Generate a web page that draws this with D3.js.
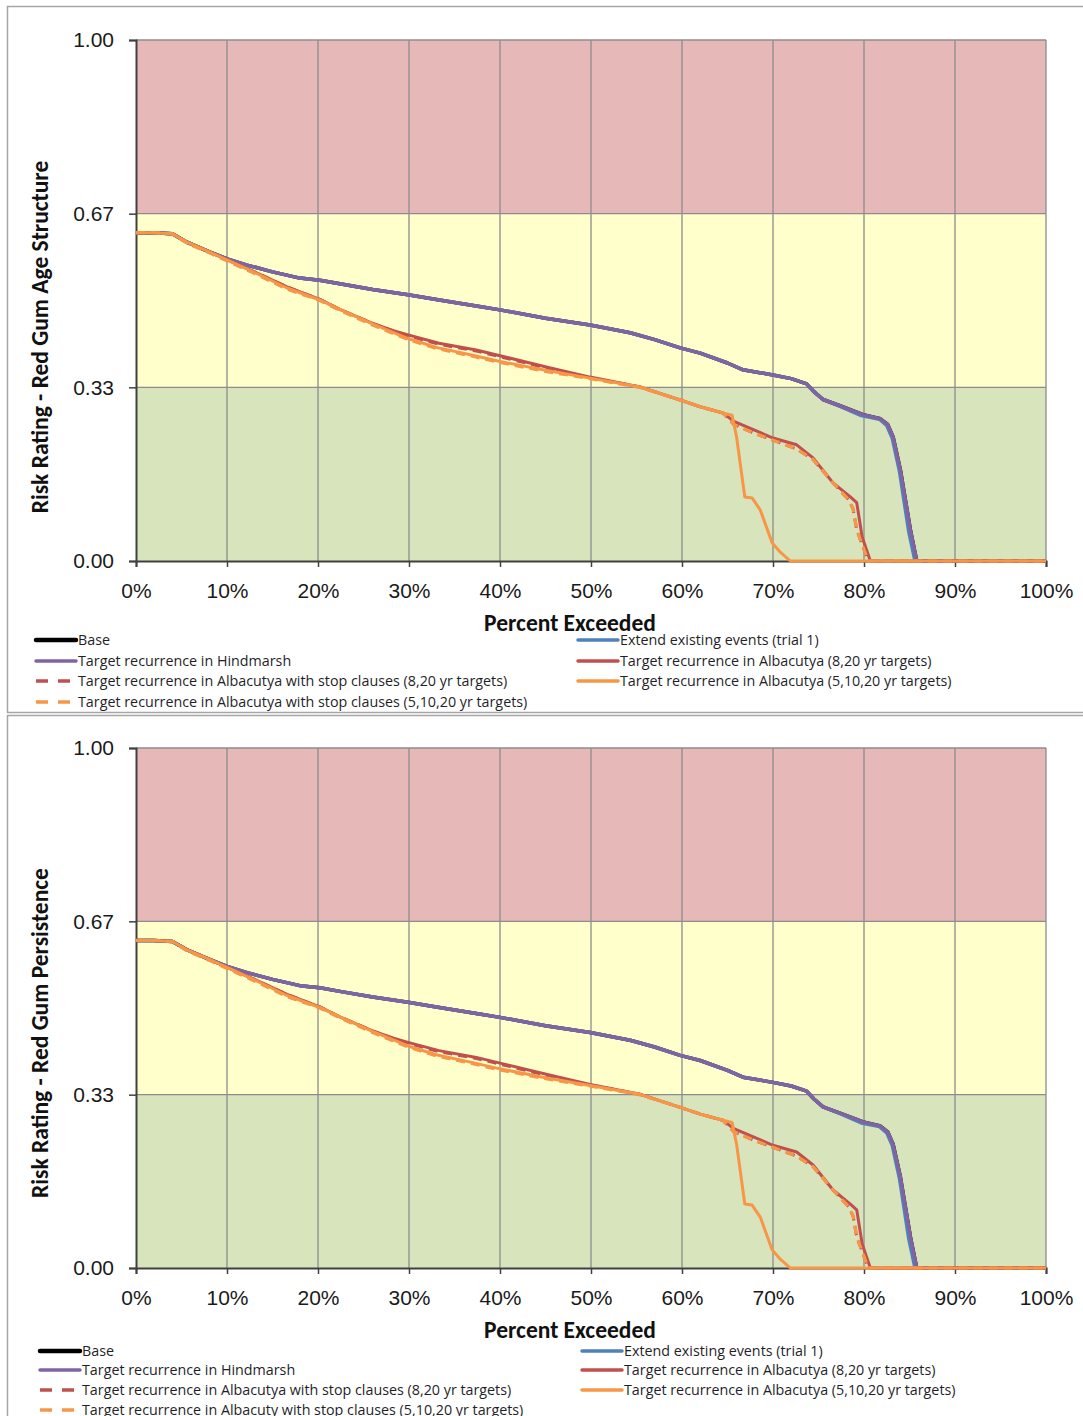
<!DOCTYPE html>
<html>
<head>
<meta charset="utf-8">
<script src="https://cdn.jsdelivr.net/npm/d3@7"></script>
<style>
  body { margin: 0; background: #fff; }
  svg { display: block; font-family: Carlito, Calibri, Lato, sans-serif; }
</style>
</head>
<body>
<svg id="chart" width="1083" height="1416"></svg>
<script>

/*
*       Data (x = percent exceeded, y = risk rating)
*/

// Tick values for both axes
var xTicks = [0, 10, 20, 30, 40, 50, 60, 70, 80, 90, 100];
var yTicks = [0, 1 / 3, 2 / 3, 1];

// Risk bands, low to high
var bandEdges = [0, 1 / 3, 2 / 3, 1];
var bandColors = ['#d8e4bc', '#ffffcc', '#e6b8b7'];

// Base and extend existing events sit right under the Hindmarsh line
var base = [[0,0.630],[2,0.630],[4,0.628],[5.6,0.612],[8,0.594],[10,0.580],[12.2,0.568],[15,0.555],[18,0.543],[20.2,0.539],[22.4,0.532],[26,0.521],[29.9,0.511],[33,0.502],[37.9,0.488],[40,0.482],[45,0.466],[49.9,0.453],[54.3,0.438],[57,0.425],[59.8,0.409],[62,0.399],[65,0.380],[66.7,0.367],[70,0.357],[72,0.350],[73.7,0.340],[74.5,0.325],[75.5,0.310],[77.5,0.297],[79.9,0.281],[81.8,0.273],[82.6,0.262],[83.2,0.238],[84,0.175],[85.1,0.060],[85.8,0],[100,0]];
var extendEvents = [[0,0.630],[2,0.630],[4,0.628],[5.6,0.612],[8,0.594],[10,0.580],[12.2,0.568],[15,0.555],[18,0.543],[20.2,0.539],[22.4,0.532],[26,0.521],[29.9,0.511],[33,0.502],[37.9,0.488],[40,0.482],[45,0.466],[49.9,0.453],[54.3,0.438],[57,0.425],[59.8,0.409],[62,0.399],[65,0.380],[66.7,0.367],[70,0.357],[72,0.350],[73.7,0.340],[74.5,0.325],[75.5,0.310],[77.5,0.296],[79.7,0.279],[81.7,0.272],[82.5,0.260],[83.1,0.236],[83.9,0.172],[84.9,0.058],[85.6,0],[100,0]];
var hindmarsh = [[0,0.630],[2,0.630],[4,0.628],[5.6,0.612],[8,0.594],[10,0.580],[12.2,0.568],[15,0.555],[18,0.543],[20.2,0.539],[22.4,0.532],[26,0.521],[29.9,0.511],[33,0.502],[37.9,0.488],[40,0.482],[45,0.466],[49.9,0.453],[54.3,0.438],[57,0.425],[59.8,0.409],[62,0.399],[65,0.380],[66.7,0.367],[70,0.357],[72,0.350],[73.7,0.340],[74.5,0.325],[75.5,0.310],[77.5,0.297],[79.9,0.281],[81.8,0.273],[82.6,0.262],[83.2,0.238],[84,0.175],[85.1,0.060],[85.8,0],[100,0]];

// Albacutya, 8,20 yr targets
var albacutya820 = [[0,0.630],[2,0.630],[4,0.628],[5.6,0.612],[8,0.594],[10,0.578],[12.9,0.556],[16.6,0.526],[20.2,0.502],[22.4,0.483],[26,0.456],[28.3,0.442],[29.9,0.434],[33.3,0.418],[37.4,0.405],[40,0.394],[45.2,0.372],[49.9,0.353],[55.4,0.334],[59.8,0.309],[62,0.296],[64.5,0.284],[65.7,0.268],[70,0.236],[72.6,0.223],[74.4,0.198],[76.6,0.150],[78.5,0.123],[79.2,0.112],[79.8,0.046],[80.7,0],[100,0]];
var albacutyaStop820 = [[0,0.630],[2,0.630],[4,0.628],[5.6,0.612],[8,0.594],[10,0.578],[12.9,0.556],[16.6,0.526],[20.2,0.502],[22.4,0.483],[26,0.456],[28.3,0.441],[29.9,0.432],[33.3,0.416],[37.4,0.403],[40,0.392],[45.2,0.370],[49.9,0.352],[55.4,0.334],[59.8,0.309],[62,0.296],[64.5,0.284],[65.7,0.262],[68,0.245],[70,0.232],[72.6,0.215],[74.4,0.195],[76.6,0.150],[78.3,0.118],[78.8,0.100],[79.2,0.060],[80.3,0.008],[80.5,0],[100,0]];

// Albacutya, 5,10,20 yr targets
var albacutya51020 = [[0,0.630],[2,0.630],[4,0.628],[5.6,0.612],[8,0.594],[10,0.578],[12.9,0.555],[16.6,0.524],[20.2,0.501],[22.4,0.483],[26,0.455],[29.9,0.427],[33,0.410],[37,0.395],[40,0.383],[45,0.366],[49.9,0.351],[55.4,0.334],[59.8,0.309],[62,0.296],[64.5,0.284],[65.5,0.280],[66,0.238],[66.9,0.123],[67.7,0.121],[68.6,0.098],[69.9,0.035],[70.8,0.017],[71.9,0],[100,0]];
var albacutyaStop51020 = [[0,0.630],[2,0.630],[4,0.628],[5.6,0.610],[8,0.592],[10,0.576],[12.9,0.553],[16.6,0.522],[20.2,0.500],[22.4,0.481],[26,0.453],[29.9,0.425],[33,0.408],[37,0.393],[40,0.381],[45,0.364],[49.9,0.350],[55.4,0.333],[59.8,0.309],[62,0.296],[64.5,0.284],[65.7,0.262],[68,0.245],[70,0.232],[72.6,0.215],[74.4,0.195],[76.6,0.150],[78.3,0.118],[78.8,0.100],[79.2,0.060],[80.3,0.008],[80.5,0],[100,0]];

// Series in plotting order (later ones drawn on top)
var series = [
    { key: 'base', data: base, color: '#000000', width: 3.5, dash: null },
    { key: 'extend', data: extendEvents, color: '#4f81bd', width: 3.5, dash: null },
    { key: 'hindmarsh', data: hindmarsh, color: '#8064a2', width: 3.5, dash: null },
    { key: 'alba820', data: albacutya820, color: '#c0504d', width: 3, dash: null },
    { key: 'stop820', data: albacutyaStop820, color: '#c0504d', width: 3, dash: '9,6' },
    { key: 'alba51020', data: albacutya51020, color: '#f79646', width: 3, dash: null },
    { key: 'stop51020', data: albacutyaStop51020, color: '#f79646', width: 3.2, dash: '9,6' }
];

// Legend entries, two columns
var legendLeft = ['base', 'hindmarsh', 'stop820', 'stop51020'];
var legendRight = ['extend', 'alba820', 'alba51020'];

/*
*       Drawing
*/

var svg = d3.select('#chart');

// Panel frames
svg.append('rect').attr('x', 7.5).attr('y', 6.5).attr('width', 1100).attr('height', 706)
    .attr('fill', 'none').attr('stroke', '#a6a6a6').attr('stroke-width', 1.5);
svg.append('rect').attr('x', 7.5).attr('y', 715.5).attr('width', 1100).attr('height', 800)
    .attr('fill', 'none').attr('stroke', '#a6a6a6').attr('stroke-width', 1.5);

function drawPanel( opts ){

    var g = svg.append('g');

    var x = d3.scaleLinear().domain([0, 100]).range([136, 1046]);
    var y = d3.scaleLinear().domain([0, 1]).range([opts.bottom, opts.top]);

    // Risk bands
    g.selectAll('rect.band')
      .data(bandColors)
      .enter().append('rect')
        .attr('class', 'band')
        .attr('x', x(0))
        .attr('width', x(100) - x(0))
        .attr('y', function(d, i){ return y(bandEdges[i + 1]); })
        .attr('height', function(d, i){ return y(bandEdges[i]) - y(bandEdges[i + 1]); })
        .attr('fill', function(d){ return d; });

    // Gridlines
    g.selectAll('line.vgrid')
      .data(xTicks.slice(1))
      .enter().append('line')
        .attr('x1', function(d){ return x(d); }).attr('x2', function(d){ return x(d); })
        .attr('y1', y(0)).attr('y2', y(1))
        .attr('stroke', '#8c8c8c').attr('stroke-width', 1.3);
    g.selectAll('line.hgrid')
      .data(yTicks.slice(1))
      .enter().append('line')
        .attr('x1', x(0)).attr('x2', x(100))
        .attr('y1', function(d){ return y(d); }).attr('y2', function(d){ return y(d); })
        .attr('stroke', '#8c8c8c').attr('stroke-width', 1.3);

    // Axes
    var yAxis = g.append('g')
        .attr('transform', 'translate(' + x(0) + ',0)')
        .call(d3.axisLeft(y).tickValues(yTicks).tickFormat(d3.format('.2f')).tickSize(7).tickPadding(15));
    var xAxis = g.append('g')
        .attr('transform', 'translate(0,' + y(0) + ')')
        .call(d3.axisBottom(x).tickValues(xTicks).tickFormat(function(d){ return d + '%'; }).tickSize(6).tickPadding(16));

    [yAxis, xAxis].forEach(function(a){
        a.select('.domain').attr('stroke', '#404040').attr('stroke-width', 2);
        a.selectAll('.tick line').attr('stroke', '#404040').attr('stroke-width', 1.5);
        a.selectAll('.tick text').attr('fill', '#1a1a1a').style('font-size', '21px');
    });

    // Axis titles
    g.append('text')
        .attr('x', 570).attr('y', opts.bottom + 70)
        .attr('text-anchor', 'middle')
        .style('font-size', '23.5px').style('font-weight', 'bold').attr('fill', '#111')
        .text('Percent Exceeded');
    g.append('text')
        .attr('transform', 'translate(48,' + opts.yTitleCenter + ') rotate(-90)')
        .attr('text-anchor', 'middle')
        .style('font-size', '23.5px').style('font-weight', 'bold').attr('fill', '#111')
        .text(opts.yTitle);

    // Lines
    var line = d3.line()
        .x(function(d){ return x(d[0]); })
        .y(function(d){ return y(d[1]); });

    g.selectAll('path.series')
      .data(series)
      .enter().append('path')
        .attr('class', 'series')
        .attr('d', function(d){ return line(d.data); })
        .attr('fill', 'none')
        .attr('stroke', function(d){ return d.color; })
        .attr('stroke-width', function(d){ return d.width; })
        .attr('stroke-dasharray', function(d){ return d.dash; })
        .attr('stroke-linejoin', 'round');

    // Legend
    function legendColumn( keys, x0, rows ){
        keys.forEach(function(k, i){
            var s = series.find(function(d){ return d.key === k; });
            var yy = rows[i];
            g.append('line')
                .attr('x1', x0).attr('x2', s.dash ? x0 + 34 : x0 + 40)
                .attr('y1', yy).attr('y2', yy)
                .attr('stroke', s.color)
                .attr('stroke-width', k === 'base' ? 4.5 : 3.5)
                .attr('stroke-linecap', s.dash ? 'butt' : 'round')
                .attr('stroke-dasharray', s.dash ? '12,10' : null);
            g.append('text')
                .attr('x', x0 + 42).attr('y', yy)
                .attr('dy', '0.35em')
                .style('font-family', '"Open Sans", sans-serif')
                .style('font-size', '14.3px').attr('fill', '#1f1f2a')
                .text(opts.labels[k]);
        });
    }
    legendColumn(legendLeft, opts.legendLeftX, opts.legendRows);
    legendColumn(legendRight, opts.legendRightX, opts.legendRows);
}

var labels = {
    base: 'Base',
    extend: 'Extend existing events (trial 1)',
    hindmarsh: 'Target recurrence in Hindmarsh',
    alba820: 'Target recurrence in Albacutya (8,20 yr targets)',
    stop820: 'Target recurrence in Albacutya with stop clauses (8,20 yr targets)',
    alba51020: 'Target recurrence in Albacutya (5,10,20 yr targets)',
    stop51020: 'Target recurrence in Albacutya with stop clauses (5,10,20 yr targets)'
};
var labelsBottom = Object.assign({}, labels, {
    stop51020: 'Target recurrence in Albacuty with stop clauses (5,10,20 yr targets)'
});

drawPanel({
    top: 40, bottom: 561,
    yTitle: 'Risk Rating - Red Gum Age Structure', yTitleCenter: 337,
    labels: labels,
    legendLeftX: 36, legendRightX: 578,
    legendRows: [640, 661, 681, 702]
});

drawPanel({
    top: 748, bottom: 1268,
    yTitle: 'Risk Rating - Red Gum Persistence', yTitleCenter: 1033,
    labels: labelsBottom,
    legendLeftX: 40, legendRightX: 582,
    legendRows: [1351, 1370, 1390, 1410]
});

</script>
</body>
</html>
